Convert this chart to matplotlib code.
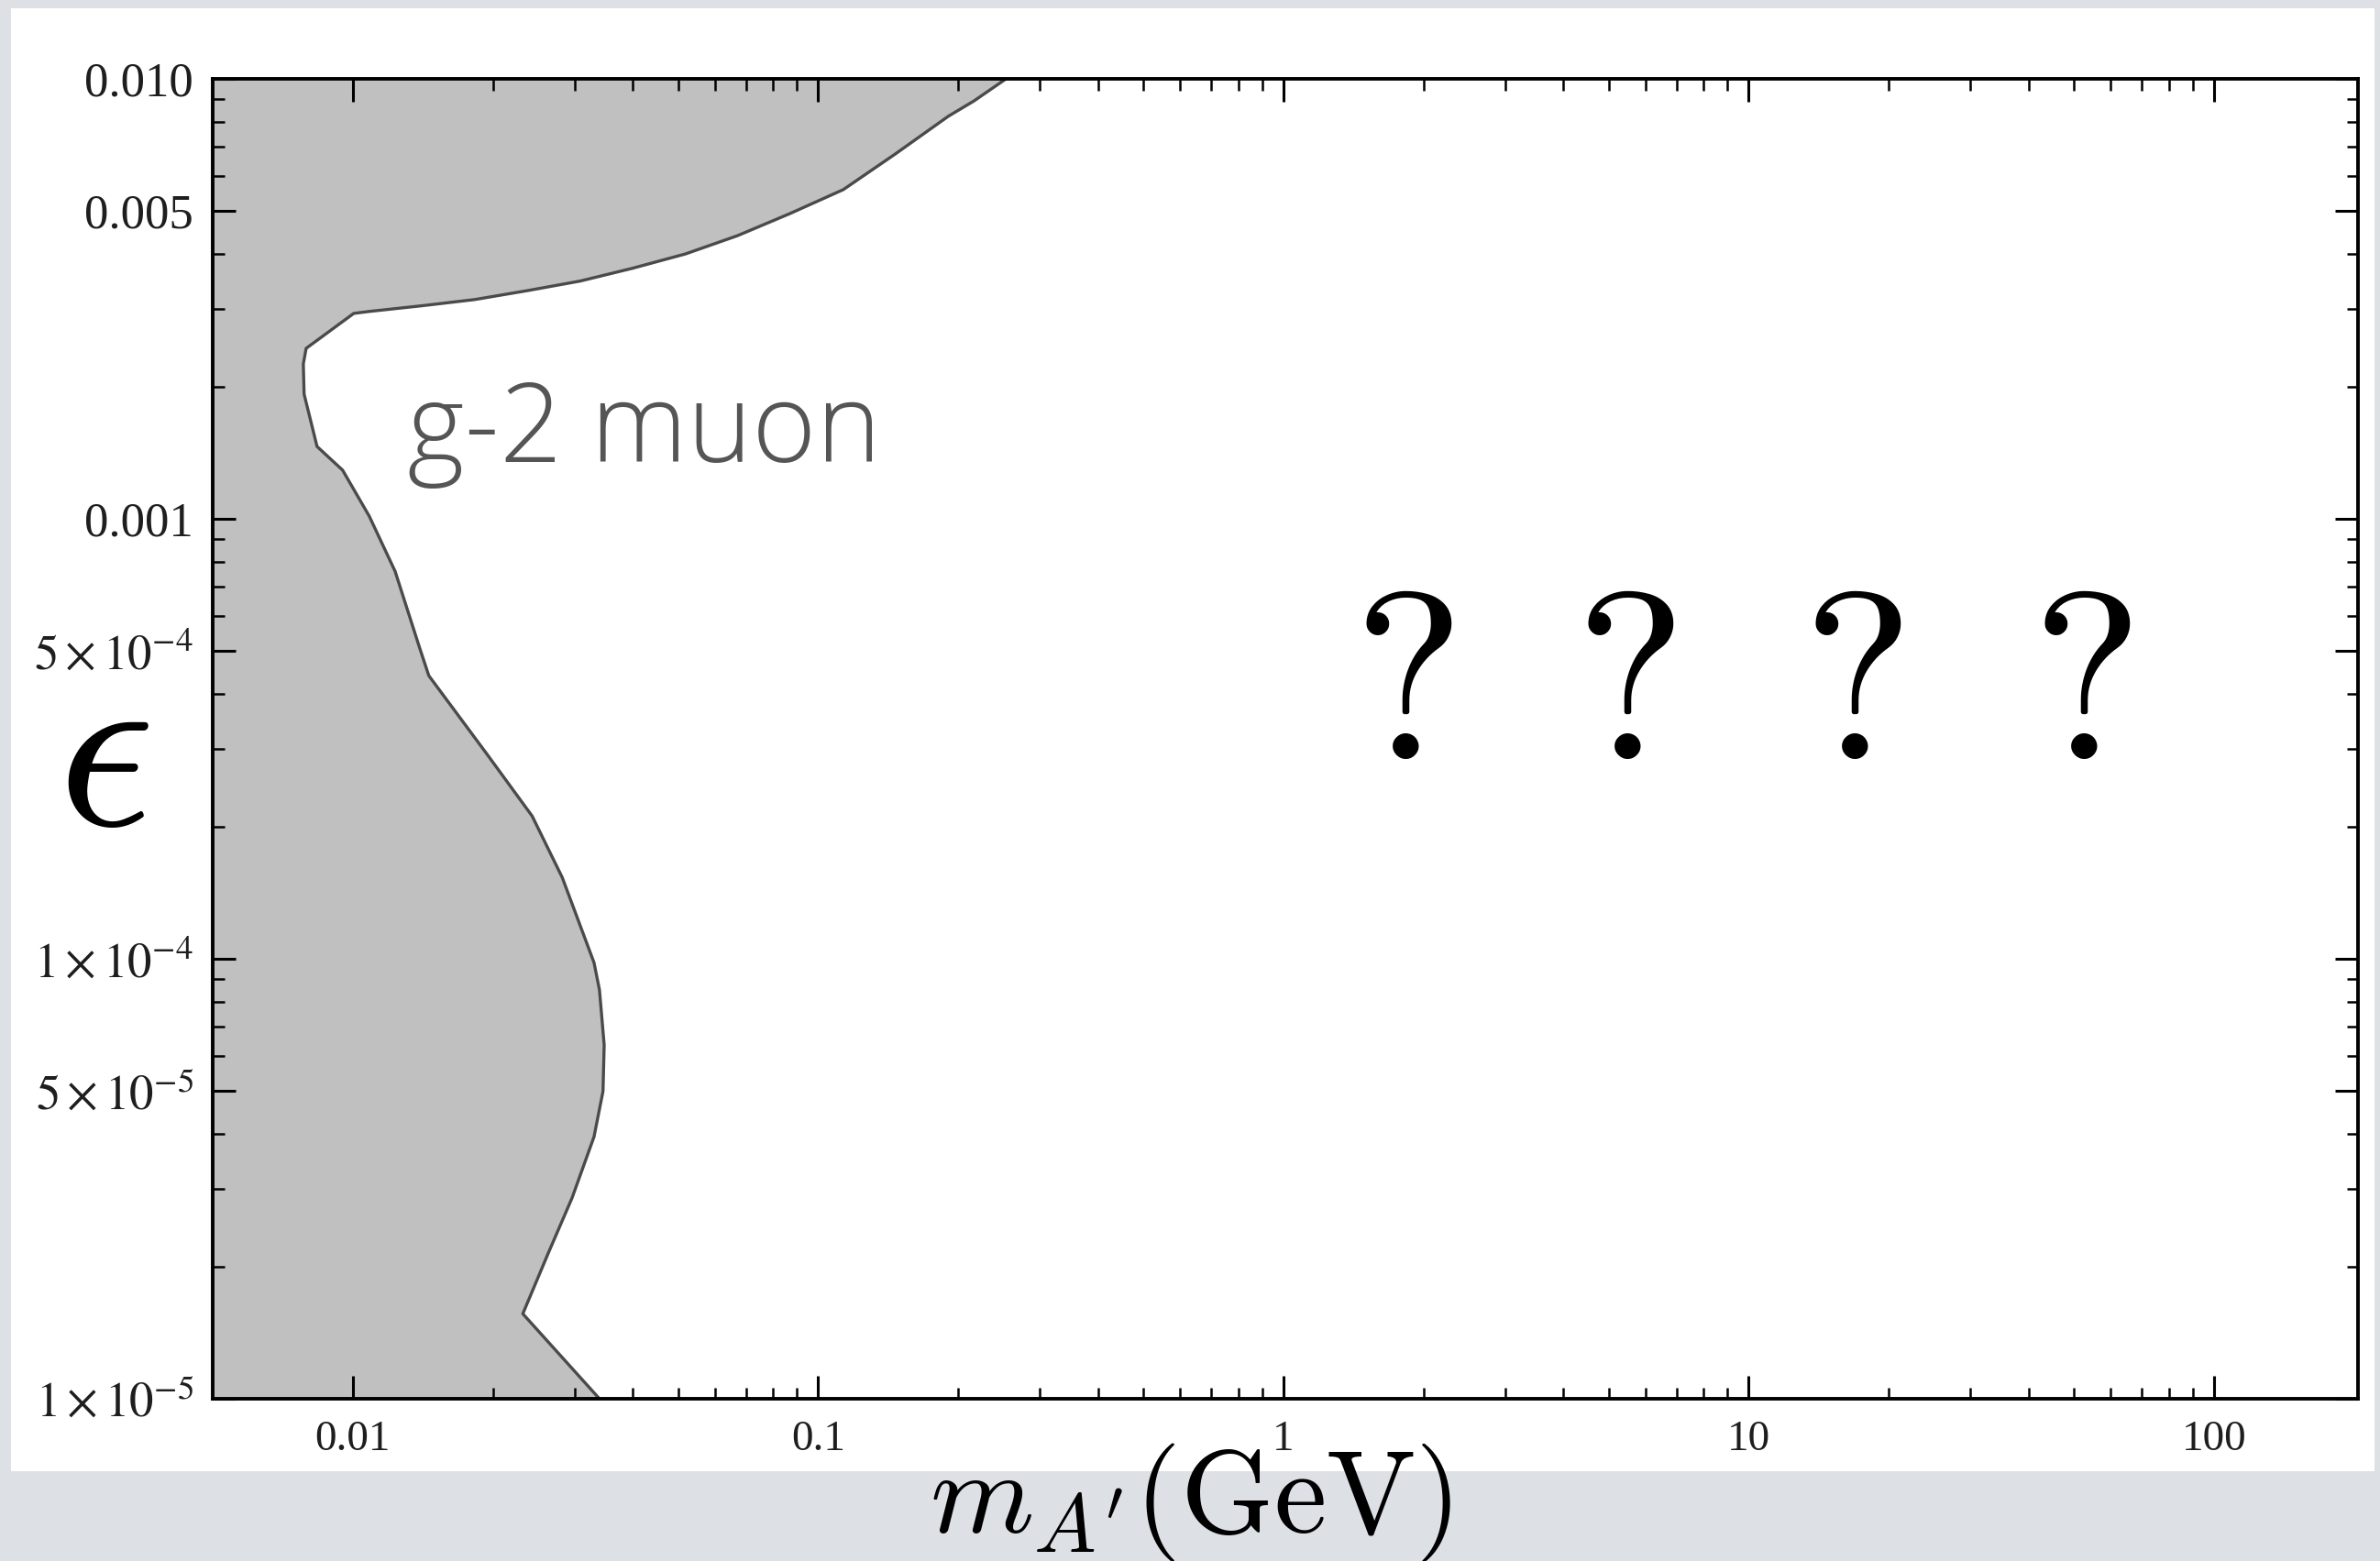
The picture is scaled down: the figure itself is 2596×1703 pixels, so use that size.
import numpy as np
import matplotlib.pyplot as plt
from matplotlib.patches import Rectangle
from matplotlib.ticker import FixedLocator, FixedFormatter, NullFormatter

plt.rcParams['font.family'] = ['Liberation Serif', 'DejaVu Serif']
plt.rcParams['mathtext.fontset'] = 'stix'

# g-2 muon excluded region: boundary of the shaded area (mass in GeV, epsilon)
mass_bound = [0.2535, 0.2164, 0.1905, 0.1466, 0.1133, 0.0870, 0.0671, 0.0519,
              0.0399, 0.0308, 0.0237, 0.01828, 0.0141, 0.01085, 0.01005,
              0.00794, 0.00783, 0.00786, 0.00838, 0.00951, 0.01085, 0.01233,
              0.01393, 0.01457, 0.01942, 0.0243, 0.0282, 0.0330, 0.0339,
              0.0347, 0.0345, 0.0330, 0.0296, 0.0263, 0.0232, 0.0339]
eps_bound = [1.0e-2, 8.91e-3, 8.22e-3, 6.75e-3, 5.6e-3, 4.94e-3, 4.4e-3, 4.0e-3,
             3.71e-3, 3.47e-3, 3.3e-3, 3.15e-3, 3.05e-3, 2.96e-3, 2.93e-3,
             2.44e-3, 2.25e-3, 1.92e-3, 1.46e-3, 1.29e-3, 1.014e-3, 7.6e-4,
             5.08e-4, 4.4e-4, 2.92e-4, 2.11e-4, 1.53e-4, 9.8e-5, 8.5e-5,
             6.37e-5, 5.0e-5, 3.94e-5, 2.86e-5, 2.14e-5, 1.56e-5, 1.0e-5]

x_major = [0.01, 0.1, 1, 10, 100]
x_labels = ['0.01', '0.1', '1', '10', '100']
y_major = [1e-2, 5e-3, 1e-3, 5e-4, 1e-4, 5e-5, 1e-5]
y_labels = ['0.010', '0.005', '0.001', r'$5\times10^{-4}$', r'$1\times10^{-4}$',
            r'$5\times10^{-5}$', r'$1\times10^{-5}$']

x_minor = [k * 10.0**d for d in range(-2, 2) for k in range(2, 10)]
y_minor = [k * 10.0**d for d in range(-5, -2) for k in (2, 3, 4, 6, 7, 8, 9)]

W, H = 2596, 1703
fig = plt.figure(figsize=(W / 100, H / 100), dpi=100, facecolor='#dde1e6')

# white slide panel
fig.patches.append(Rectangle((12 / W, 1 - 1605 / H), (2590 - 12) / W, (1605 - 9) / H,
                             transform=fig.transFigure, facecolor='white',
                             edgecolor='none', zorder=-5))

ax = fig.add_axes([232 / W, 1 - 1526 / H, (2572 - 232) / W, (1526 - 86) / H])
ax.set_xscale('log')
ax.set_yscale('log')
xlo, xhi = 0.005, 204
ax.set_xlim(xlo, xhi)
ax.set_ylim(1e-5, 1e-2)

m = np.array(mass_bound)
e = np.array(eps_bound)
ax.fill(np.r_[xlo / 2, m, xlo / 2], np.r_[e[0], e, e[-1]],
        facecolor='#c0c0c0', edgecolor='none', zorder=1)
ax.plot(m, e, color='#4a4a4a', lw=2.4, zorder=2)

ax.xaxis.set_major_locator(FixedLocator(x_major))
ax.xaxis.set_major_formatter(FixedFormatter(x_labels))
ax.xaxis.set_minor_locator(FixedLocator(x_minor))
ax.xaxis.set_minor_formatter(NullFormatter())
ax.yaxis.set_major_locator(FixedLocator(y_major))
ax.yaxis.set_major_formatter(FixedFormatter(y_labels))
ax.yaxis.set_minor_locator(FixedLocator(y_minor))
ax.yaxis.set_minor_formatter(NullFormatter())

ax.tick_params(which='both', direction='in', top=True, right=True, color='black',
               labelcolor='#1e1e1e')
ax.tick_params(which='major', length=18, width=2.2)
ax.tick_params(which='minor', length=9, width=1.8)
ax.tick_params(axis='x', pad=17, labelsize=34)
ax.tick_params(axis='y', pad=15, labelsize=38)
for s in ax.spines.values():
    s.set_linewidth(2.8)
    s.set_zorder(5)

# annotations
fig.text(444 / W, 1 - 504 / H, 'g-2 muon', family='Open Sans', fontweight='light',
         fontsize=86, color='#555555', ha='left', va='baseline')
for xq in [1536, 1779, 2026, 2276]:
    fig.text(xq / W, 1 - 828 / H, '?', family='cmr10', fontsize=186,
             color='black', ha='center', va='baseline')
fig.text(112 / W, 1 - 838 / H, r'$\epsilon$', math_fontfamily='cm', fontsize=188,
         ha='center', va='center', color='black')
fig.text(0.5, 1 - 1672 / H, r"$m_{A'}(\mathrm{GeV})$", math_fontfamily='cm',
         fontsize=93, ha='center', va='baseline', color='black')

fig.savefig('out.png', dpi=100, facecolor=fig.get_facecolor())
